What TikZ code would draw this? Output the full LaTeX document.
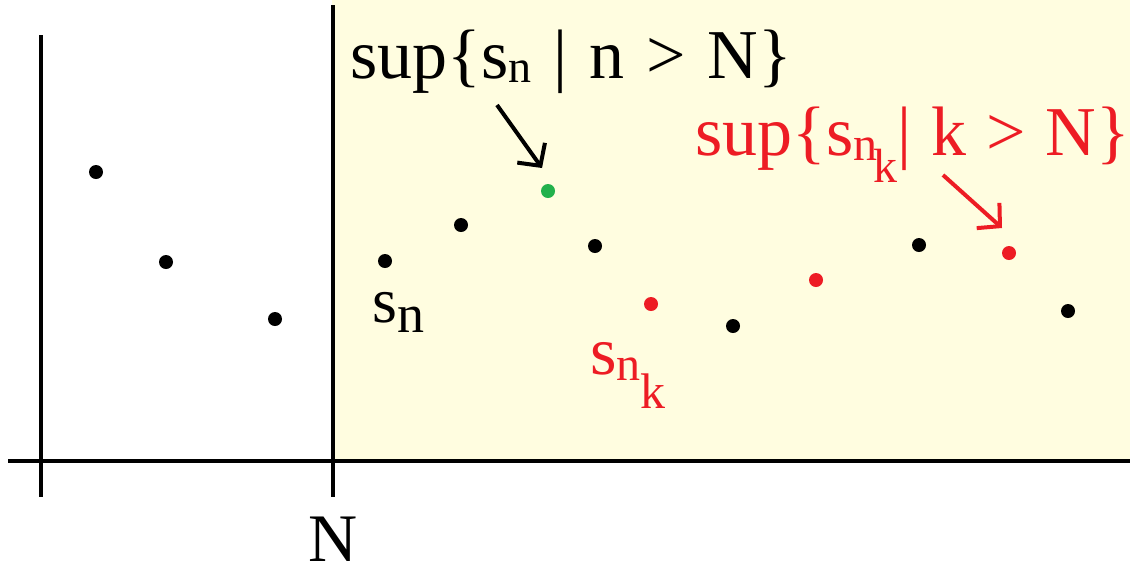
\documentclass[tikz,border=0pt]{standalone}
\usepackage{fontspec}
\setmainfont{Liberation Serif}
\usetikzlibrary{arrows.meta}
\definecolor{bgyellow}{RGB}{255,253,224}
\definecolor{ptred}{RGB}{237,28,36}
\definecolor{ptgreen}{RGB}{34,177,76}
\newcommand{\fsz}[1]{\fontsize{#1}{#1}\selectfont}
\begin{document}
\begin{tikzpicture}[x=1pt,y=-1pt,
  axis/.style={line width=4.5pt},
  dot/.style={circle,fill,inner sep=0pt,minimum size=14pt},
  lbl/.style={inner sep=0pt,anchor=base west},
  arr/.style={line width=4pt,-{Straight Barb[length=16pt,width=34pt]}}]
\useasboundingbox (0,0) rectangle (1130,566);
\fill[bgyellow] (332,0) rectangle (1130,461);
% axes
\coordinate (ht) at (8,461);
\coordinate (hr) at (1130,461);
\coordinate (lt) at (41,35);
\coordinate (lb) at (41,497);
\coordinate (nt) at (333,5);
\coordinate (nb) at (333,497);
\draw[axis] (ht) -- (hr);
\draw[axis] (lt) -- (lb);
\draw[axis] (nt) -- (nb);
% dots
\node[dot] (d1) at (96,172) {};
\node[dot] (d2) at (166,262) {};
\node[dot] (d3) at (275,319) {};
\node[dot] (d4) at (385,261) {};
\node[dot] (d5) at (461,225) {};
\node[dot] (d6) at (595,246) {};
\node[dot] (d7) at (733,326) {};
\node[dot] (d8) at (919,245) {};
\node[dot] (d9) at (1068,311) {};
\node[dot,ptgreen] (g1) at (548,191) {};
\node[dot,ptred] (r1) at (651,304) {};
\node[dot,ptred] (r2) at (816,280) {};
\node[dot,ptred] (r3) at (1009,253) {};
% labels
\node[lbl] (supn) at (350,78) {\fsz{70}\spaceskip=22pt sup\{s\raisebox{-4pt}{\fsz{46}n} | n > N\}};
\node[lbl,text=ptred] (supk) at (695,155) {\fsz{70}\spaceskip=20pt sup\{s\raisebox{-5pt}{\fsz{48}n\kern-4pt\raisebox{-22pt}{\fsz{48}k}}| k > N\}};
\node[lbl] (sn) at (372,322) {\fsz{64}s\raisebox{-10pt}{\fsz{54}n}};
\node[lbl,text=ptred] (snk) at (590,374) {\fsz{68}s\raisebox{-6pt}{\fsz{48}n\raisebox{-28pt}{\fsz{50}k}}};
\node[lbl,text depth=0pt] (nlab) at (308,561) {\fsz{68}N};
% arrows
\coordinate (a1s) at (497,105);
\coordinate (a1e) at (542,168);
\coordinate (a2s) at (943,175);
\coordinate (a2e) at (1002,228);
\draw[arr] (a1s) -- (a1e);
\draw[arr,ptred] (a2s) -- (a2e);
\end{tikzpicture}
\end{document}
